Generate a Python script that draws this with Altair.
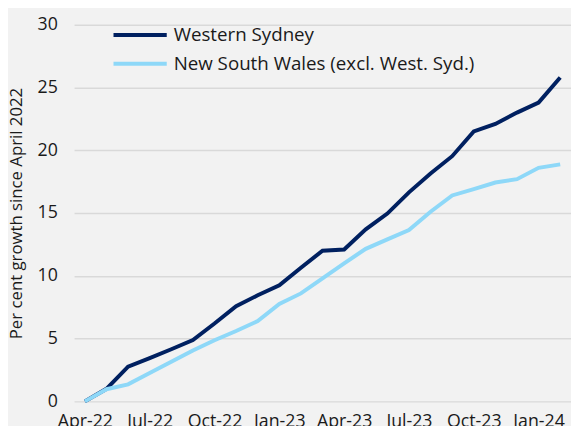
import altair as alt
import pandas as pd

months = ["Apr-22", "May-22", "Jun-22", "Jul-22", "Aug-22", "Sep-22", "Oct-22",
          "Nov-22", "Dec-22", "Jan-23", "Feb-23", "Mar-23", "Apr-23", "May-23",
          "Jun-23", "Jul-23", "Aug-23", "Sep-23", "Oct-23", "Nov-23", "Dec-23",
          "Jan-24", "Feb-24"]
western_sydney = [0.0, 1.0, 2.77, 3.45, 4.15, 4.89, 6.2, 7.58, 8.45, 9.25, 10.65,
                  12.0, 12.1, 13.7, 14.96, 16.65, 18.15, 19.53, 21.5, 22.1, 23.0,
                  23.8, 25.8]
nsw_excl = [0.0, 0.97, 1.36, 2.26, 3.16, 4.06, 4.87, 5.6, 6.4, 7.76, 8.6, 9.8,
            11.0, 12.15, 12.9, 13.65, 15.1, 16.4, 16.9, 17.43, 17.7, 18.6, 18.88]
series_names = ["Western Sydney", "New South Wales (excl. West. Syd.)"]
series_colors = ["#002060", "#8ED8F8"]
x_tick_labels = months[::3]
y_ticks = [0, 5, 10, 15, 20, 25, 30]

rows = []
for m, v in zip(months, western_sydney):
    rows.append({"month": m, "series": series_names[0], "value": v})
for m, v in zip(months, nsw_excl):
    rows.append({"month": m, "series": series_names[1], "value": v})
df = pd.DataFrame(rows)

FONT = "Open Sans"
TXT = "#1a1a1a"

x = alt.X("month:O", sort=months,
          scale=alt.Scale(type="point", padding=0.5),
          axis=alt.Axis(values=x_tick_labels, labelAngle=0, title=None,
                        domain=False, ticks=False, grid=False,
                        labelFontSize=18, labelPadding=11, labelColor=TXT,
                        labelFont=FONT))
y = alt.Y("value:Q", scale=alt.Scale(domain=[0, 30], nice=False),
          axis=alt.Axis(values=y_ticks, title="Per cent growth since April 2022",
                        titleFontSize=17, titleFontWeight="normal", titleColor=TXT,
                        titleFont=FONT, titlePadding=12,
                        labelFontSize=18, labelPadding=17, labelColor=TXT,
                        labelFont=FONT, domain=False, ticks=False,
                        gridColor="#d9d9d9", gridWidth=1.5))
color = alt.Color("series:N",
                  scale=alt.Scale(domain=series_names, range=series_colors),
                  legend=alt.Legend(orient="none", legendX=38, legendY=-4,
                                    title=None, symbolType="stroke",
                                    symbolSize=2916, symbolStrokeWidth=4,
                                    labelFontSize=19, labelFont=FONT,
                                    labelColor=TXT, labelOffset=5, labelLimit=0,
                                    clipHeight=29, padding=0, rowPadding=0))

base = alt.Chart(df).encode(x=x, y=y, color=color)
ws_line = base.transform_filter(alt.datum.series == series_names[0]).mark_line(strokeWidth=4)
nsw_line = base.transform_filter(alt.datum.series == series_names[1]).mark_line(strokeWidth=4)

chart = alt.layer(ws_line, nsw_line).properties(
    width=504, height=382,
    autosize=alt.AutoSizeParams(type="none"),
    padding={"left": 67, "top": 14, "right": 0, "bottom": 22},
    background="#f2f2f2",
).configure_view(stroke=None)

chart.save("out.html", embed_options={"renderer": "svg", "actions": False})
